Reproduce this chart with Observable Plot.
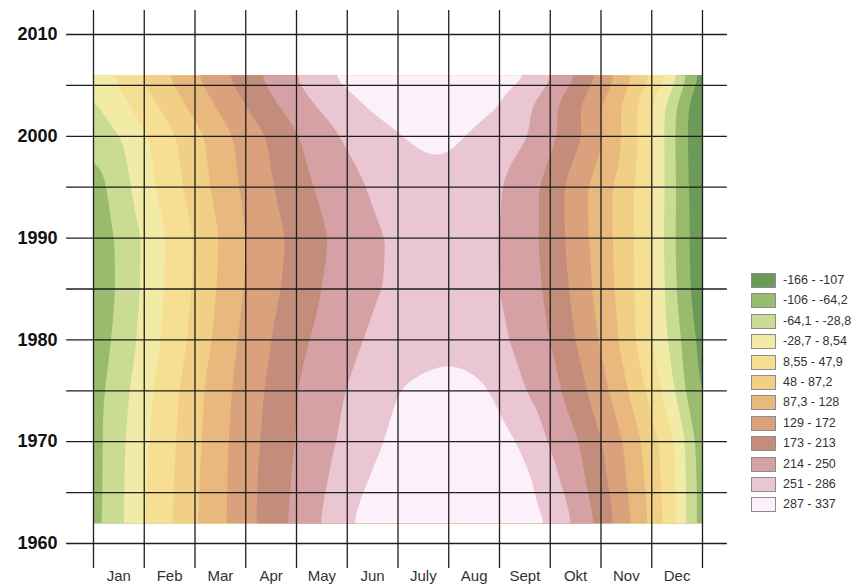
<!DOCTYPE html>
<html>
<head>
<meta charset="utf-8">
<script src="https://cdn.jsdelivr.net/npm/d3@7"></script>
<script src="https://cdn.jsdelivr.net/npm/@observablehq/plot@0.6"></script>
<style>
  html, body { margin: 0; padding: 0; background: #fff; }
  #wrap { position: relative; width: 858px; height: 585px; font-family: "Liberation Sans", Arial, sans-serif; }
  #legend { position: absolute; left: 751px; top: 273px; }
  .item { position: absolute; left: 0; height: 14px; white-space: nowrap; }
  .sw { position: absolute; left: 0; top: 0; width: 23px; height: 13px; border: 1px solid #8c8c8c; }
  .lb { position: absolute; left: 32px; top: -1px; font-size: 12.5px; line-height: 16px; color: #333; }
</style>
</head>
<body>
<div id="wrap"></div>
<script>
// ---- tick labels / categories ----
const monthLabels = ["Jan", "Feb", "Mar", "Apr", "May", "Jun", "July", "Aug", "Sept", "Okt", "Nov", "Dec"];
const monthEdges = [0, 1, 2, 3, 4, 5, 6, 7, 8, 9, 10, 11, 12];
const monthCenters = [0.5, 1.5, 2.5, 3.5, 4.5, 5.5, 6.5, 7.5, 8.5, 9.5, 10.5, 11.5];
const yearTicks = [1960, 1970, 1980, 1990, 2000, 2010];
const gridYears = [1960, 1965, 1970, 1975, 1980, 1985, 1990, 1995, 2000, 2005, 2010];
const gridMonthSpan = [-0.53, 12.49];
const gridYearSpan = [1957.54, 2012.36];

// ---- legend classes ----
const classBreaks = [-106.5, -64.2, -28.8, 8.5, 48, 87.2, 128.5, 172.5, 213.5, 250.5, 286.5];
const classColors = ["#6c9a58", "#98bb6e", "#cadb93", "#f2eba5", "#f6df92", "#f1cf85",
                     "#e8b87c", "#d9a17c", "#c48c7b", "#d6a1a4", "#eac6d2", "#fcf0fb"];
const legendLabels = ["-166 - -107", "-106 - -64,2", "-64,1 - -28,8", "-28,7 - 8,54", "8,55 - 47,9",
                      "48 - 87,2", "87,3 - 128", "129 - 172", "173 - 213", "214 - 250", "251 - 286", "287 - 337"];
const dataMin = -166;

// ---- value grid (month position x year) ----
const months = [0, 0.5, 1, 1.5, 2, 2.5, 3, 3.5, 4, 4.5, 5, 5.5, 6, 6.5, 7, 7.5, 8, 8.5, 9, 9.5, 10, 10.5, 11, 11.5, 12];
const years = [1962, 1966, 1970, 1975, 1980, 1985, 1990, 1995, 2000, 2003, 2006];
const v1962 = [-78,-39,9,43,83,119,157,193,224,252,280,306,322,332,336,332,322,306,283,244,204,139,77,10,-95];
const v1966 = [-80,-39,6,41,81,118,157,191,220,245,269,291,307,318,322,318,312,298,263,231,189,129,71,7,-95];
const v1970 = [-80,-40,2,38,77,116,154,187,216,239,259,279,296,304,308,306,300,280,246,221,176,120,64,4,-98];
const v1975 = [-80,-46,-5,33,73,112,148,182,214,233,252,269,287,294,298,294,282,251,228,195,145,91,34,-33,-125];
const v1980 = [-87,-54,-18,23,59,102,141,172,203,224,241,256,267,273,276,273,258,238,215,173,123,69,10,-50,-132];
const v1985 = [-95,-59,-23,18,52,94,132,162,189,215,231,247,256,266,270,265,251,231,206,161,110,66,10,-64,-146];
const v1990 = [-91,-58,-25,16,49,90,129,157,184,209,228,246,255,264,268,264,251,229,201,152,106,65,9,-69,-147];
const v1995 = [-83,-47,-9,29,65,102,138,169,198,221,238,255,268,276,278,272,253,230,200,150,105,65,10,-66,-155];
const v2000 = [-52,-32,2,39,73,110,146,179,211,235,256,270,285,292,291,283,269,255,225,186,134,77,10,-69,-160];
const v2003 = [-38,-6,29,64,100,136,173,206,233,256,275,292,300,305,304,298,287,259,225,182,127,76,11,-64,-160];
const v2006 = [-20,17,53,90,125,162,198,227,252,279,298,310,318,322,322,316,304,293,255,217,164,100,47,-21,-135];
const rows = [v1962, v1966, v1970, v1975, v1980, v1985, v1990, v1995, v2000, v2003, v2006];

const points = [];
rows.forEach((row, i) => row.forEach((v, j) => points.push({m: months[j], year: years[i], v})));

const ext = {x1: months[0], x2: months[months.length - 1], y1: years[0], y2: years[years.length - 1]};
const lineStyle = {stroke: "#1e1e1e", strokeWidth: 1.3};

const chart = Plot.plot({
  width: 858,
  height: 585,
  marginLeft: 93,
  marginRight: 156,
  marginTop: 34,
  marginBottom: 42,
  x: {domain: [0, 12]},
  y: {domain: [1960, 2010]},
  color: {type: "threshold", domain: classBreaks, range: classColors},
  style: {fontFamily: "'Liberation Sans', Arial, sans-serif", background: "white", overflow: "visible"},
  marks: [
    Plot.raster(points, {x: "m", y: "year", fill: "v", interpolate: "barycentric", blur: 8, pixelSize: 1, ...ext}),
    Plot.contour(points, {x: "m", y: "year", fill: "v", thresholds: [dataMin, ...classBreaks],
      interpolate: "barycentric", blur: 8, pixelSize: 1, ...ext}),
    Plot.ruleY(gridYears, {x1: gridMonthSpan[0], x2: gridMonthSpan[1], ...lineStyle}),
    Plot.ruleX(monthEdges, {y1: gridYearSpan[0], y2: gridYearSpan[1], ...lineStyle}),
    Plot.axisY(yearTicks, {tickSize: 0, tickPadding: 36, fontSize: 18, fontWeight: "bold", fill: "#111",
      tickFormat: d => String(d), label: null}),
    Plot.axisX(monthCenters, {tickSize: 0, tickPadding: 27, fontSize: 15, fill: "#333",
      tickFormat: d => monthLabels[Math.floor(d)], label: null})
  ]
});

const wrap = document.getElementById("wrap");
wrap.appendChild(chart);

const legend = document.createElement("div");
legend.id = "legend";
legendLabels.forEach((t, i) => {
  const item = document.createElement("div");
  item.className = "item";
  item.style.top = (i * 20.4) + "px";
  const sw = document.createElement("div");
  sw.className = "sw";
  sw.style.background = classColors[i];
  const lb = document.createElement("div");
  lb.className = "lb";
  lb.textContent = t;
  item.appendChild(sw);
  item.appendChild(lb);
  legend.appendChild(item);
});
wrap.appendChild(legend);
</script>
</body>
</html>
